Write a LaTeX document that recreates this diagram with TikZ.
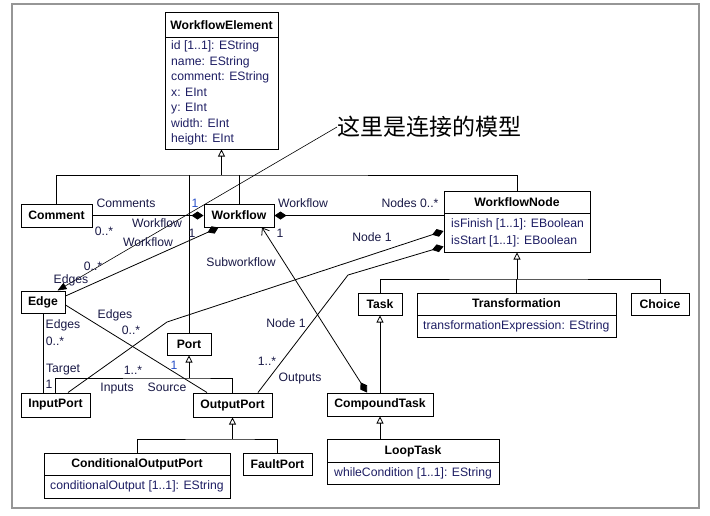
\documentclass[tikz,border=0pt]{standalone}
\usepackage{fontspec}
\setmainfont{Liberation Sans}
\newfontfamily\cjkfont{Noto Sans CJK SC}
\usetikzlibrary{arrows.meta}
\definecolor{labc}{RGB}{25,25,70}
\definecolor{attrc}{RGB}{30,30,100}
\definecolor{onec}{RGB}{40,80,200}
\definecolor{framec}{RGB}{150,150,150}
\begin{document}
\begin{tikzpicture}[x=1pt,y=-1pt,
  font=\fontsize{12.2}{14}\selectfont,
  box/.style={draw=black, line width=1pt, fill=white, inner sep=0pt, font=\fontsize{12.2}{14}\selectfont\bfseries},
  ttl/.style={inner sep=0pt, anchor=base, font=\fontsize{12.2}{14}\selectfont\bfseries},
  attr/.style={inner sep=0pt, anchor=base west, text=attrc},
  lab/.style={inner sep=0pt, anchor=base, text=labc},
  one/.style={inner sep=0pt, anchor=base, text=onec},
  ln/.style={line width=0.8pt, draw=black},
  gen/.style={ln, -{Triangle[open, length=7pt, width=7pt]}},
  comp/.style={ln, -{Diamond[length=12pt, width=8pt]}},
  divider/.style={line width=0.8pt, draw=black},
]
\useasboundingbox (0,0) rectangle (710,515);
\draw[framec, line width=1.5pt] (12,4) rectangle (699,508);

% ---------- boxes with attributes ----------
\node[box, minimum width=113pt, minimum height=137pt] (we) at (221.5,80.5) {};
\node[ttl] (weT) at (221.5,29) {WorkflowElement};
\draw[divider] (165,37) -- (278,37);
\node[attr] (we1) at (171,49.5) {id [1..1]: EString};
\node[attr] (we2) at (171,65) {name: EString};
\node[attr] (we3) at (171,80.5) {comment: EString};
\node[attr] (we4) at (171,96) {x: EInt};
\node[attr] (we5) at (171,111.5) {y: EInt};
\node[attr] (we6) at (171,127) {width: EInt};
\node[attr] (we7) at (171,142.5) {height: EInt};

\node[box, minimum width=146pt, minimum height=61pt] (wn) at (517,221.5) {};
\node[ttl] (wnT) at (517,206.5) {WorkflowNode};
\draw[divider] (444,213) -- (590,213);
\node[attr] (wn1) at (451,227.5) {isFinish [1..1]: EBoolean};
\node[attr] (wn2) at (451,244.5) {isStart [1..1]: EBoolean};

\node[box, minimum width=199pt, minimum height=44pt] (trans) at (516.5,315) {};
\node[ttl] (transT) at (516.5,307.5) {Transformation};
\draw[divider] (417,315) -- (616,315);
\node[attr] (trans1) at (423,329.5) {transformationExpression: EString};

\node[box, minimum width=172pt, minimum height=45pt] (loop) at (413,461.5) {};
\node[ttl] (loopT) at (413,454.5) {LoopTask};
\draw[divider] (327,462) -- (499,462);
\node[attr] (loop1) at (334,476.5) {whileCondition [1..1]: EString};

\node[box, minimum width=186pt, minimum height=45pt] (cop) at (137,475.5) {};
\node[ttl] (copT) at (137,467.5) {ConditionalOutputPort};
\draw[divider] (44,475) -- (230,475);
\node[attr] (cop1) at (50,489.5) {conditionalOutput [1..1]: EString};

% ---------- simple boxes ----------
\node[box, minimum width=71pt, minimum height=23pt] (comment) at (56.5,215.5) {Comment};
\node[box, minimum width=70pt, minimum height=23pt] (wf) at (239,215.5) {Workflow};
\node[box, minimum width=44pt, minimum height=22pt] (edge) at (43,302) {Edge};
\node[box, minimum width=44pt, minimum height=22pt] (task) at (380,304) {Task};
\node[box, minimum width=58pt, minimum height=22pt] (choice) at (660,304) {Choice};
\node[box, minimum width=44pt, minimum height=22pt] (port) at (189,344) {Port};
\node[box, minimum width=69pt, minimum height=24pt] (inport) at (55.5,405) {InputPort};
\node[box, minimum width=79pt, minimum height=24pt] (outport) at (232.5,405) {OutputPort};
\node[box, minimum width=106pt, minimum height=23pt] (ctask) at (380,404.5) {CompoundTask};
\node[box, minimum width=69pt, minimum height=22pt] (fault) at (277.5,464) {FaultPort};

% ---------- generalizations ----------
\coordinate (weJ) at (221.5,175);
\draw[ln] (comment.north) |- (weJ) -| (wn.north);
\draw[ln] (wf.north) -- (wf.north |- weJ);
\draw[ln] (port.north) -- (port.north |- weJ);
\draw[gen] (weJ) -- (we.south);

\coordinate (wnJ) at (517,279);
\draw[ln] (task.north) |- (wnJ) -| (choice.north);
\draw[ln] (trans.north) -- (trans.north |- wnJ);
\draw[gen] (wnJ) -- (wn.south);

\coordinate (portJ) at (189,378);
\draw[ln] (inport.north) |- (portJ) -| (outport.north);
\draw[gen] (portJ) -- (port.south);

\coordinate (opJ) at (232.5,439);
\draw[ln] (cop.north) |- (opJ) -| (fault.north);
\draw[gen] (opJ) -- (outport.south);

\draw[gen] (ctask.north) -- (task.south);
\draw[gen] (ctask.south |- loop.north) -- (ctask.south);

% ---------- associations ----------
\draw[comp] (comment.east) -- (wf.west);
\draw[comp] (wn.west |- wf.east) -- (wf.east);
\draw[comp] ([yshift=6pt]edge.east) -- ([xshift=15pt]wf.south west);
\coordinate (b1) at (167,322);
\draw[comp] ([xshift=12.5pt]inport.north) -- (b1) -- ([yshift=-9.5pt]wn.west);
\coordinate (b2) at (348,275);
\draw[comp] ([xshift=25.5pt]outport.north) -- (b2) -- ([yshift=-25pt]wn.west);
\draw[ln] (edge.south) -- (inport.north -| edge.south);
\draw[ln] ([yshift=-3pt]edge.east) -- ([xshift=-25.5pt]outport.north);
\draw[ln, {Straight Barb[length=6pt, width=9pt]}-{Diamond[length=12pt, width=8pt]}] ([xshift=23pt]wf.south) -- ([xshift=-13pt]ctask.north);

% ---------- annotation ----------
\node[inner sep=0pt, anchor=west, font=\cjkfont\fontsize{23}{26}\selectfont] (note) at (337,127) {这里是连接的模型};
\draw[line width=0.6pt, -{Triangle[length=9pt, width=7pt]}] (note.west) -- ([xshift=-8pt]edge.north east);

% ---------- labels ----------
\node[lab] (l1) at (126,207) {Comments};
\node[lab] (l2) at (104,235) {0..*};
\node[lab] (l3) at (157,227) {Workflow};
\node[lab] (l4) at (148,246) {Workflow};
\node[one] (l5) at (195,207) {1};
\node[lab] (l6) at (192,237) {1};
\node[lab] (l7) at (93,270) {0..*};
\node[lab] (l8) at (71,283) {Edges};
\node[lab] (l9) at (303,207) {Workflow};
\node[lab] (l10) at (280,237) {1};
\node[lab] (l11) at (410,207) {Nodes 0..*};
\node[lab] (l12) at (372,241) {Node 1};
\node[lab] (l13) at (241,266) {Subworkflow};
\node[lab] (l14) at (63,328) {Edges};
\node[lab] (l15) at (55,345) {0..*};
\node[lab] (l16) at (63,372) {Target};
\node[lab] (l17) at (49,388) {1};
\node[lab] (l18) at (115,318) {Edges};
\node[lab] (l19) at (131,334) {0..*};
\node[lab] (l20) at (133,374) {1..*};
\node[one] (l21) at (174,369) {1};
\node[lab] (l22) at (117,391) {Inputs};
\node[lab] (l23) at (167,391) {Source};
\node[lab] (l24) at (286,327) {Node 1};
\node[lab] (l25) at (267,365) {1..*};
\node[lab] (l26) at (300,381) {Outputs};
\end{tikzpicture}
\end{document}
